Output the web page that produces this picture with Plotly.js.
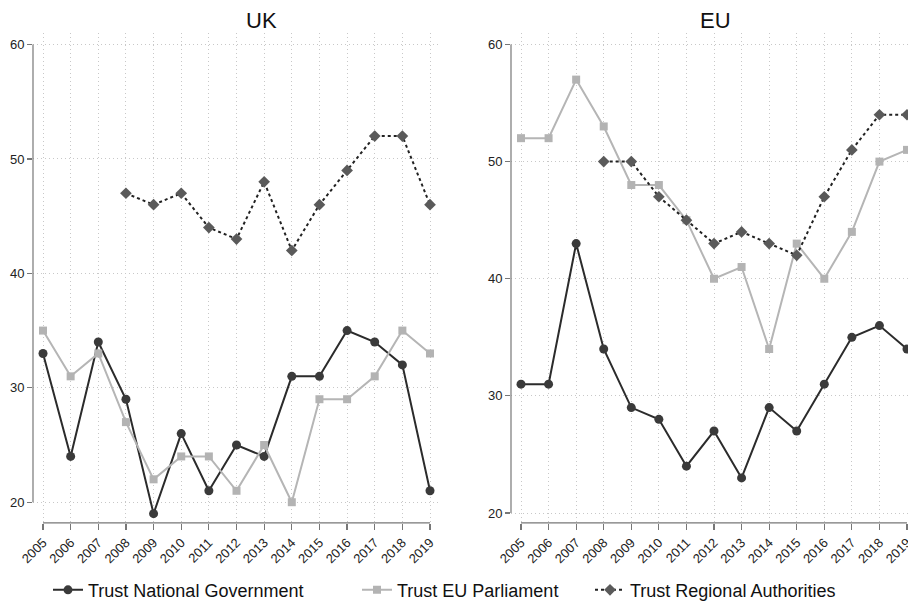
<!DOCTYPE html>
<html>
<head>
<meta charset="utf-8">
<script src="https://cdn.plot.ly/plotly-3.0.1.min.js"></script>
<style>html,body{margin:0;padding:0;background:#fff;}#chart{width:908px;height:609px;}</style>
</head>
<body>
<div id="chart"></div>
<script>
const years = [2005,2006,2007,2008,2009,2010,2011,2012,2013,2014,2015,2016,2017,2018,2019];
const yTicks = [20,30,40,50,60];
const panelTitles = ['UK','EU'];
const seriesNames = ['Trust National Government','Trust EU Parliament','Trust Regional Authorities'];

const ukNational = [33,24,34,29,19,26,21,25,24,31,31,35,34,32,21];
const ukParliament = [35,31,33,27,22,24,24,21,25,20,29,29,31,35,33];
const ukRegional = [null,null,null,47,46,47,44,43,48,42,46,49,52,52,46];

const euNational = [31,31,43,34,29,28,24,27,23,29,27,31,35,36,34];
const euParliament = [52,52,57,53,48,48,45,40,41,34,43,40,44,50,51];
const euRegional = [null,null,null,50,50,47,45,43,44,43,42,47,51,54,54];

const W = 908, H = 609;
const px = v => v / W;
const py = v => 1 - v / H;

const styles = [
  {line:{color:'#2b2b2b', width:2}, marker:{symbol:'circle', size:9, color:'#3a3a3a'}},
  {line:{color:'#b5b5b5', width:2}, marker:{symbol:'square', size:8, color:'#b3b3b3'}},
  {line:{color:'#222222', width:2, dash:'dot'}, marker:{symbol:'diamond', size:9, color:'#5a5a5a'}}
];
const legendIds = ['legend','legend2','legend3'];

function mk(ys, i, xa, ya, show){
  return {
    x: years, y: ys, type:'scatter', mode:'lines+markers', name: seriesNames[i],
    line: styles[i].line, marker: styles[i].marker, xaxis: xa, yaxis: ya,
    showlegend: show, legend: legendIds[i], cliponaxis:false, connectgaps:false,
    hoverinfo:'skip'
  };
}

const data = [
  mk(ukNational,0,'x','y',true),
  mk(ukParliament,1,'x','y',true),
  mk(ukRegional,2,'x','y',true),
  mk(euNational,0,'x2','y2',false),
  mk(euParliament,1,'x2','y2',false),
  mk(euRegional,2,'x2','y2',false)
];

const font = 'Liberation Sans, Arial, Helvetica, sans-serif';
const xCommon = {
  tickvals: years, ticktext: years.map(String), tickangle:-45,
  ticks:'outside', ticklen:6, tickcolor:'#777', tickwidth:1.2,
  showgrid:true, gridcolor:'#c8c8c8', griddash:'1px,3px', gridwidth:1,
  zeroline:false, showline:false, fixedrange:true, ticklabeloverflow:'allow',
  tickfont:{family:font, size:13, color:'#222'}
};
const yCommon = {
  tickvals: yTicks, ticks:'outside', ticklen:5, tickcolor:'#777', tickwidth:1.2,
  showgrid:true, gridcolor:'#c8c8c8', griddash:'1px,3px', gridwidth:1,
  zeroline:false, showline:false, fixedrange:true,
  tickfont:{family:font, size:13, color:'#222'}
};
const yDom = [py(529), py(33)];

const legendCommon = {orientation:'h', yanchor:'middle', xanchor:'left', y:py(597),
  font:{family:font, size:18, color:'#111'}, bgcolor:'rgba(0,0,0,0)', borderwidth:0};

const layout = {
  width:W, height:H, margin:{l:0,r:0,t:0,b:0},
  paper_bgcolor:'#fff', plot_bgcolor:'#fff',
  xaxis: Object.assign({}, xCommon, {domain:[px(33), px(438)], range:[2004.638, 2019.289], anchor:'y'}),
  yaxis: Object.assign({}, yCommon, {domain:yDom, range:[18.19, 61.04], anchor:'x'}),
  xaxis2: Object.assign({}, xCommon, {domain:[px(511), 1], range:[2004.637, 2019.036], anchor:'y2'}),
  yaxis2: Object.assign({}, yCommon, {domain:yDom, range:[19.156, 61.01], anchor:'x2'}),
  legend: Object.assign({}, legendCommon, {x:px(48)}),
  legend2: Object.assign({}, legendCommon, {x:px(357)}),
  legend3: Object.assign({}, legendCommon, {x:px(590)}),
  showlegend:true,
  annotations: [
    {text:panelTitles[0], xref:'paper', yref:'paper', x:px(261.5), y:py(21), xanchor:'center', yanchor:'middle', showarrow:false, font:{family:font, size:22, color:'#111'}},
    {text:panelTitles[1], xref:'paper', yref:'paper', x:px(715), y:py(21), xanchor:'center', yanchor:'middle', showarrow:false, font:{family:font, size:22, color:'#111'}}
  ],
  shapes: [
    {type:'line', xref:'paper', yref:'y', x0:px(33), x1:px(33), y0:yTicks[0], y1:yTicks[yTicks.length-1], line:{color:'#777', width:1.2}},
    {type:'line', xref:'x', yref:'paper', x0:years[0], x1:years[years.length-1], y0:py(529), y1:py(529), line:{color:'#777', width:1.2}},
    {type:'line', xref:'paper', yref:'y2', x0:px(511), x1:px(511), y0:yTicks[0], y1:yTicks[yTicks.length-1], line:{color:'#777', width:1.2}},
    {type:'line', xref:'x2', yref:'paper', x0:years[0], x1:years[years.length-1], y0:py(529), y1:py(529), line:{color:'#777', width:1.2}}
  ]
};

Plotly.newPlot('chart', data, layout, {displayModeBar:false, staticPlot:true});
</script>
</body>
</html>
